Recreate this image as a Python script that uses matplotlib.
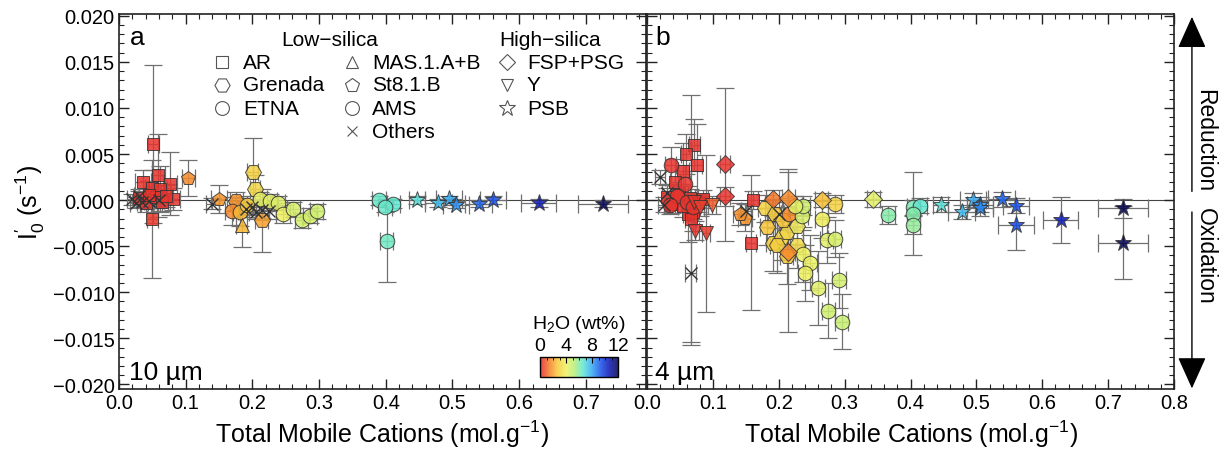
import matplotlib
matplotlib.use('Agg')
import matplotlib.pyplot as plt
import numpy as np
from matplotlib.colors import LinearSegmentedColormap, Normalize
from matplotlib.ticker import MultipleLocator, FuncFormatter

plt.rcParams['font.family'] = ['Liberation Sans', 'DejaVu Sans']
plt.rcParams['mathtext.fontset'] = 'custom'
plt.rcParams['mathtext.rm'] = 'Liberation Sans'
plt.rcParams['mathtext.it'] = 'Liberation Sans:italic'

# ---- 10 um grain size (panel a) ----
a_sample = (['AR'] * 14 + ['Others'] * 12 + ['St8.1.B'] * 2 + ['Grenada'] * 4 +
            ['MAS.1.A+B'] + ['ETNA'] * 3 + ['AMS'] * 12 + ['PSB'] * 8)
a_x = [0.0515, 0.036, 0.049, 0.059, 0.0765, 0.0615, 0.081, 0.050, 0.030, 0.040, 0.055, 0.065, 0.045, 0.070,
       0.020, 0.025, 0.030, 0.035, 0.045, 0.060, 0.140, 0.190, 0.200, 0.205, 0.215, 0.225,
       0.104, 0.150,
       0.2005, 0.204, 0.214, 0.176,
       0.184,
       0.169, 0.1815, 0.1915,
       0.2115, 0.2265, 0.239, 0.246, 0.2615, 0.274, 0.2865, 0.2965, 0.390, 0.4115, 0.399, 0.4015,
       0.4465, 0.479, 0.495, 0.5055, 0.539, 0.5605, 0.629, 0.7255]
a_y = [0.0061, 0.0020, 0.0013, 0.0027, 0.0018, 0.0012, 0.0001, -0.0020, 0.0002, -0.0003, 0.0003, -0.0002, 0.0006, 0.0004,
       0.0001, -0.0003, 0.0004, -0.0002, -0.0001, 0.0000, -0.0004, -0.0010, -0.0008, -0.0013, -0.0011, -0.0012,
       0.0024, 0.0001,
       0.0031, 0.0012, -0.0022, -0.0001,
       -0.0027,
       -0.0012, -0.0013, -0.0005,
       0.0001, -0.0001, -0.0003, -0.0015, -0.0010, -0.0022, -0.0017, -0.0012, 0.0000, -0.0004, -0.0008, -0.0044,
       0.0000, -0.0003, 0.0001, -0.0005, -0.0004, 0.0000, -0.0003, -0.0004]
a_xerr = [0.008, 0.012, 0.010, 0.010, 0.010, 0.010, 0.010, 0.008, 0.008, 0.008, 0.008, 0.008, 0.008, 0.008,
          0.008, 0.008, 0.008, 0.008, 0.008, 0.008, 0.010, 0.010, 0.010, 0.010, 0.010, 0.010,
          0.010, 0.012,
          0.008, 0.008, 0.010, 0.010,
          0.008,
          0.010, 0.010, 0.010,
          0.010, 0.010, 0.010, 0.010, 0.010, 0.010, 0.010, 0.010, 0.010, 0.010, 0.010, 0.010,
          0.012, 0.020, 0.020, 0.020, 0.020, 0.020, 0.026, 0.038]
a_yerr = [0.0086, 0.0013, 0.0020, 0.0045, 0.0034, 0.0025, 0.0012, 0.0064, 0.0010, 0.0010, 0.0012, 0.0010, 0.0015, 0.0012,
          0.0006, 0.0006, 0.0006, 0.0006, 0.0006, 0.0006, 0.0006, 0.0008, 0.0008, 0.0008, 0.0008, 0.0008,
          0.0020, 0.0015,
          0.0036, 0.0015, 0.0034, 0.0010,
          0.0024,
          0.0015, 0.0015, 0.0010,
          0.0008, 0.0008, 0.0008, 0.0010, 0.0008, 0.0008, 0.0008, 0.0008, 0.0005, 0.0005, 0.0005, 0.0045,
          0.0004, 0.0004, 0.0004, 0.0004, 0.0004, 0.0004, 0.0004, 0.0004]
a_h2o = [0.3, 0.3, 0.3, 0.3, 0.3, 0.3, 0.3, 0.4, 0.3, 0.3, 0.3, 0.3, 0.3, 0.3,
         0, 0, 0, 0, 0, 0, 0, 0, 0, 0, 0, 0,
         1.6, 1.8,
         3.0, 3.2, 2.0, 1.8,
         2.4,
         1.6, 2.4, 2.8,
         4.2, 4.3, 4.4, 4.0, 4.5, 4.6, 4.6, 4.7, 6.5, 6.6, 6.5, 6.4,
         6.8, 7.6, 7.9, 8.3, 9.0, 9.3, 10.5, 12.0]

# ---- 4 um grain size (panel b) ----
b_sample = (['AR'] * 17 + ['ETNA'] * 8 + ['Y'] * 5 + ['FSP+PSG'] * 7 + ['St8.1.B'] * 2 +
            ['Grenada'] * 11 + ['AMS'] * 18 + ['PSB'] * 11 + ['Others'] * 6)
b_x = [0.0718, 0.0592, 0.0754, 0.0551, 0.0425, 0.161, 0.158, 0.0627, 0.070, 0.030, 0.038, 0.048, 0.055, 0.065, 0.078, 0.085, 0.066,
       0.036, 0.0577, 0.045, 0.060, 0.070, 0.035, 0.216, 0.285,
       0.0728, 0.0895, 0.098, 0.0713, 0.080,
       0.1184, 0.1184, 0.1907, 0.2145, 0.2145, 0.265, 0.3434,
       0.1487, 0.141,
       0.179, 0.194, 0.1816, 0.1907, 0.2044, 0.212, 0.2069, 0.212, 0.227, 0.1968, 0.227,
       0.2347, 0.237, 0.2245, 0.265, 0.2727, 0.285, 0.237, 0.2473, 0.2397, 0.260, 0.2913, 0.2751, 0.2954,
       0.366, 0.404, 0.4143, 0.404, 0.404,
       0.4456, 0.4775, 0.4952, 0.5053, 0.5053, 0.5382, 0.560, 0.560, 0.6277, 0.7228, 0.7228,
       0.0663, 0.020, 0.025, 0.030, 0.150, 0.200]
b_y = [0.0060, 0.0050, 0.0038, 0.0032, 0.0020, 0.0000, -0.0046, -0.0015, -0.0013, 0.0003, -0.0004, 0.0006, -0.0006, 0.0002, -0.0003, 0.0001, -0.0020,
       0.0038, 0.0018, 0.0005, -0.0002, -0.0008, -0.0005, -0.0015, -0.0004,
       -0.0033, -0.0036, -0.0005, -0.0002, -0.0007,
       0.0039, 0.0004, 0.0001, 0.0002, -0.0056, 0.0000, 0.0001,
       -0.0019, -0.0015,
       -0.0009, -0.0015, -0.0029, -0.0047, -0.0040, -0.0035, -0.0022, -0.0061, -0.0049, -0.0049, -0.0028,
       -0.0017, -0.0006, -0.0006, -0.0021, -0.0043, -0.0042, -0.0059, -0.0068, -0.0079, -0.0095, -0.0087, -0.0120, -0.0132,
       -0.0016, -0.0008, -0.0006, -0.0015, -0.0027,
       -0.0005, -0.0013, 0.0000, -0.0005, -0.0009, 0.0001, -0.0006, -0.0027, -0.0022, -0.0009, -0.0046,
       -0.0079, 0.0025, -0.0005, 0.0008, -0.0012, -0.0015]
b_xerr = [0.008] * 17 + [0.008] * 6 + [0.010] * 2 + [0.006] * 5 + [0.008, 0.008, 0.010, 0.010, 0.010, 0.010, 0.010] + \
         [0.010] * 2 + [0.010] * 11 + [0.010] * 13 + [0.010] * 5 + \
         [0.012, 0.020, 0.020, 0.020, 0.020, 0.020, 0.020, 0.027, 0.026, 0.038, 0.038] + [0.008] * 6
b_yerr = [0.0028, 0.0022, 0.0045, 0.0030, 0.0025, 0.0010, 0.0073, 0.0030, 0.0020, 0.0010, 0.0010, 0.0012, 0.0012, 0.0010, 0.0010, 0.0010, 0.0134,
          0.0020, 0.0020, 0.0010, 0.0010, 0.0012, 0.0010, 0.0015, 0.0010,
          0.0010, 0.0085, 0.0010, 0.0008, 0.0010,
          0.0083, 0.0010, 0.0010, 0.0032, 0.0087, 0.0008, 0.0008,
          0.0015, 0.0012,
          0.0015, 0.0015, 0.0020, 0.0030, 0.0025, 0.0020, 0.0020, 0.0030, 0.0025, 0.0030, 0.0020,
          0.0015, 0.0010, 0.0010, 0.0020, 0.0025, 0.0020, 0.0030, 0.0030, 0.0030, 0.0040, 0.0030, 0.0030, 0.0030,
          0.0010, 0.0008, 0.0008, 0.0045, 0.0010,
          0.0008, 0.0008, 0.0008, 0.0008, 0.0008, 0.0008, 0.0008, 0.0027, 0.0025, 0.0010, 0.0040,
          0.0078, 0.0008, 0.0008, 0.0008, 0.0008, 0.0008]
b_h2o = [0.3] * 17 + [0.3] * 6 + [1.6, 3.0] + [0.3, 0.4, 0.9, 0.3, 0.5] + [0.3, 0.3, 1.3, 1.6, 1.6, 2.5, 4.3] + \
        [1.8, 1.7] + [3.0, 2.8, 2.6, 2.9, 3.0, 3.2, 2.7, 2.8, 3.3, 2.9, 3.8] + \
        [4.5, 4.7, 4.2, 3.9, 4.3, 4.5, 4.0, 4.1, 4.0, 4.3, 4.6, 4.7, 4.9] + [6.0, 6.2, 6.6, 6.0, 5.8] + \
        [6.8, 7.6, 7.9, 8.3, 8.5, 9.0, 9.3, 9.5, 10.5, 12.0, 12.0] + [0] * 6

low_silica = ['AR', 'Grenada', 'ETNA', 'MAS.1.A+B', 'St8.1.B', 'AMS', 'Others']
high_silica = ['FSP+PSG', 'Y', 'PSB']
markers = {'AR': 's', 'Grenada': 'H', 'ETNA': 'o', 'MAS.1.A+B': '^', 'St8.1.B': 'p',
           'AMS': 'o', 'Others': 'x', 'FSP+PSG': 'D', 'Y': 'v', 'PSB': '*'}
sizes = {'AR': 8.5, 'Grenada': 11.5, 'ETNA': 10.5, 'MAS.1.A+B': 9.5, 'St8.1.B': 10.5,
         'AMS': 10.5, 'Others': 8, 'FSP+PSG': 9, 'Y': 9.5, 'PSB': 12.5}

cmap = LinearSegmentedColormap.from_list(
    'h2o', ['#e4202e', '#f47a28', '#f8c838', '#eef060', '#b4ee7c', '#5ce6d4',
            '#34a8f4', '#1850e8', '#0a14b4', '#000050'])
norm = Normalize(0, 12)


def fmt_minus(decimals):
    return FuncFormatter(lambda v, pos: f'{v:.{decimals}f}'.replace('-', '\u2212'))


fig = plt.figure(figsize=(12.25, 4.56), dpi=100)
ax_a = fig.add_axes([0.0971, 0.1447, 0.4302, 0.8224])
ax_b = fig.add_axes([0.5282, 0.1447, 0.4302, 0.8224])


def draw_panel(ax, sample, x, y, xerr, yerr, h2o):
    ax.axhline(0, color='#444444', lw=0.8, zorder=1)
    ax.errorbar(x, y, xerr=xerr, yerr=yerr, fmt='none', ecolor='#707070',
                elinewidth=0.9, capsize=6.5, capthick=0.9, zorder=2)
    sample = np.array(sample)
    x, y, h2o = np.array(x), np.array(y), np.array(h2o)
    for name in markers:
        m = sample == name
        if not m.any():
            continue
        if name == 'Others':
            ax.plot(x[m], y[m], 'x', ms=sizes[name], mec='#333333', mew=1.0, zorder=3, ls='none')
            continue
        for xi, yi, hi in zip(x[m], y[m], h2o[m]):
            ax.plot(xi, yi, marker=markers[name], ms=sizes[name], ls='none',
                    mfc=cmap(norm(hi)), mec='#333333', mew=0.7, alpha=0.85, zorder=3)


draw_panel(ax_a, a_sample, a_x, a_y, a_xerr, a_yerr, a_h2o)
draw_panel(ax_b, b_sample, b_x, b_y, b_xerr, b_yerr, b_h2o)

for ax in (ax_a, ax_b):
    ax.set_ylim(-0.0205, 0.0202)
    ax.xaxis.set_major_locator(MultipleLocator(0.1))
    ax.xaxis.set_minor_locator(MultipleLocator(0.02))
    ax.yaxis.set_major_locator(MultipleLocator(0.005))
    ax.yaxis.set_minor_locator(MultipleLocator(0.001))
    ax.xaxis.set_major_formatter(fmt_minus(1))
    ax.yaxis.set_major_formatter(fmt_minus(3))
    ax.tick_params(which='both', direction='in', top=True, right=True, labelsize=14.5, color='#222222')
    ax.tick_params(which='major', length=7, width=1.0, pad=3)
    ax.tick_params(which='minor', length=3.5, width=0.8)
    for s in ax.spines.values():
        s.set_linewidth(1.2)
        s.set_color('#222222')
    ax.set_xlabel(r'Total Mobile Cations (mol.g$\mathregular{^{-1}}$)', fontsize=18, labelpad=4)

ax_a.set_xlim(0, 0.79)
ax_b.set_xlim(0, 0.8)
ax_b.tick_params(labelleft=False)
ax_a.set_ylabel(r"$\mathregular{I^{\prime}_0\ (s^{-1})}$", fontsize=18, labelpad=4)

ax_a.text(0.02, 0.94, 'a', transform=ax_a.transAxes, fontsize=19, va='center')
ax_b.text(0.016, 0.94, 'b', transform=ax_b.transAxes, fontsize=19, va='center')
ax_a.text(0.02, 0.045, '10 µm', transform=ax_a.transAxes, fontsize=19, va='center')
ax_b.text(0.016, 0.045, '4 µm', transform=ax_b.transAxes, fontsize=19, va='center')

# sample legend (hollow grey symbols)
ax_a.text(0.40, 0.933, 'Low\u2212silica', transform=ax_a.transAxes, fontsize=15, ha='center', va='center')
ax_a.text(0.818, 0.933, 'High\u2212silica', transform=ax_a.transAxes, fontsize=15, ha='center', va='center')
rows = [0.872, 0.811, 0.749, 0.688]
cols = [(0.195, 0.235), (0.442, 0.480)]
for i, name in enumerate(low_silica):
    mx, tx = cols[i // 3] if i < 6 else cols[1]
    ry = rows[i % 3] if i < 6 else rows[3]
    ax_a.plot(mx, ry, marker=markers[name], ms=sizes[name] * 0.95, mfc='white', mec='#555555',
              mew=0.8, transform=ax_a.transAxes, ls='none', clip_on=False)
    ax_a.text(tx, ry, name, transform=ax_a.transAxes, fontsize=15, va='center')
for i, name in enumerate(high_silica):
    ax_a.plot(0.736, rows[i], marker=markers[name], ms=sizes[name] * 0.95, mfc='white', mec='#555555',
              mew=0.8, transform=ax_a.transAxes, ls='none', clip_on=False)
    ax_a.text(0.774, rows[i], name, transform=ax_a.transAxes, fontsize=15, va='center')

# water content colour bar
cax = ax_a.inset_axes([0.799, 0.032, 0.148, 0.053])
cb = fig.colorbar(plt.cm.ScalarMappable(norm=norm, cmap=cmap), cax=cax, orientation='horizontal')
cb.solids.set_alpha(0.85)
cax.xaxis.set_ticks_position('top')
cax.xaxis.set_label_position('top')
cb.set_ticks([0, 4, 8, 12])
cax.xaxis.set_minor_locator(MultipleLocator(1))
cax.tick_params(which='both', direction='in', labelsize=14, pad=2)
cax.tick_params(which='major', length=4)
cax.tick_params(which='minor', length=2)
cb.outline.set_linewidth(1.0)
cax.set_title(r'H$\mathregular{_2}$O (wt%)', fontsize=14, pad=21)

# redox direction arrows
fig.add_artist(matplotlib.patches.FancyArrowPatch((0.973, 0.572), (0.973, 0.967), transform=fig.transFigure,
                                                   arrowstyle='-|>,head_length=1.0,head_width=0.45', mutation_scale=20,
                                                   color='black', lw=1.0))
fig.add_artist(matplotlib.patches.FancyArrowPatch((0.973, 0.539), (0.973, 0.140), transform=fig.transFigure,
                                                   arrowstyle='-|>,head_length=1.0,head_width=0.45', mutation_scale=20,
                                                   color='black', lw=1.0))
fig.text(0.9837, 0.691, 'Reduction', rotation=-90, ha='center', va='center', fontsize=16.5)
fig.text(0.9837, 0.437, 'Oxidation', rotation=-90, ha='center', va='center', fontsize=16.5)

fig.savefig('out.png', dpi=100)
